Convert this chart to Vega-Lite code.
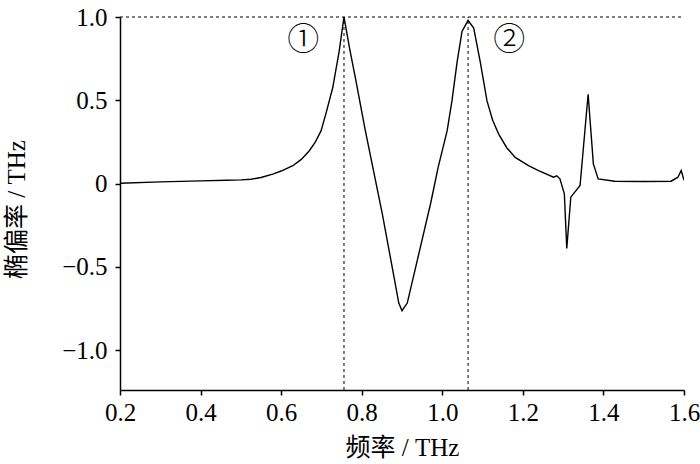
{
  "$schema": "https://vega.github.io/schema/vega-lite/v6.json",
  "description": "Ellipticity vs frequency",
  "width": 564,
  "height": 373,
  "autosize": {"type": "none"},
  "padding": {"left": 120, "top": 17, "right": 16, "bottom": 74},
  "background": "white",
  "datasets": {
    "curve": [
      {"f": 0.2, "e": 0.002}, {"f": 0.3, "e": 0.01}, {"f": 0.4, "e": 0.016}, {"f": 0.464, "e": 0.02},
      {"f": 0.5, "e": 0.022}, {"f": 0.525, "e": 0.026}, {"f": 0.55, "e": 0.036}, {"f": 0.579, "e": 0.056},
      {"f": 0.6, "e": 0.075}, {"f": 0.629, "e": 0.107}, {"f": 0.65, "e": 0.145}, {"f": 0.67, "e": 0.197},
      {"f": 0.685, "e": 0.25}, {"f": 0.699, "e": 0.316}, {"f": 0.711, "e": 0.418}, {"f": 0.728, "e": 0.575},
      {"f": 0.744, "e": 0.794}, {"f": 0.756, "e": 1.0}, {"f": 0.77, "e": 0.81}, {"f": 0.785, "e": 0.625},
      {"f": 0.808, "e": 0.33}, {"f": 0.851, "e": -0.181}, {"f": 0.88, "e": -0.559}, {"f": 0.892, "e": -0.718},
      {"f": 0.9, "e": -0.764}, {"f": 0.913, "e": -0.718}, {"f": 0.942, "e": -0.42}, {"f": 0.971, "e": -0.12},
      {"f": 0.99, "e": 0.1}, {"f": 1.012, "e": 0.316}, {"f": 1.024, "e": 0.496}, {"f": 1.037, "e": 0.734},
      {"f": 1.049, "e": 0.913}, {"f": 1.064, "e": 0.98}, {"f": 1.078, "e": 0.933}, {"f": 1.094, "e": 0.734},
      {"f": 1.111, "e": 0.496}, {"f": 1.125, "e": 0.38}, {"f": 1.14, "e": 0.297}, {"f": 1.16, "e": 0.215},
      {"f": 1.181, "e": 0.157}, {"f": 1.214, "e": 0.107}, {"f": 1.239, "e": 0.078}, {"f": 1.276, "e": 0.038},
      {"f": 1.284, "e": 0.046}, {"f": 1.292, "e": 0.028}, {"f": 1.303, "e": -0.062}, {"f": 1.309, "e": -0.39},
      {"f": 1.319, "e": -0.082}, {"f": 1.342, "e": -0.012}, {"f": 1.362, "e": 0.536}, {"f": 1.375, "e": 0.118},
      {"f": 1.387, "e": 0.028}, {"f": 1.428, "e": 0.014}, {"f": 1.5, "e": 0.012}, {"f": 1.568, "e": 0.014},
      {"f": 1.585, "e": 0.038}, {"f": 1.593, "e": 0.078}, {"f": 1.6, "e": 0.02}
    ],
    "peaks": [
      {"f": 0.756, "label": "①", "lx": 0.655},
      {"f": 1.064, "label": "②", "lx": 1.166}
    ]
  },
  "config": {
    "view": {"stroke": null},
    "axis": {"grid": false}
  },
  "layer": [
    {
      "data": {"name": "curve"},
      "mark": {"type": "line", "color": "black", "strokeWidth": 1.4, "clip": true},
      "encoding": {
        "x": {
          "field": "f",
          "type": "quantitative",
          "scale": {"domain": [0.2, 1.6], "nice": false, "zero": false},
          "axis": {
            "values": [0.2, 0.4, 0.6, 0.8, 1.0, 1.2, 1.4, 1.6],
            "format": ".1f",
            "domainColor": "black",
            "domainWidth": 1.5,
            "tickColor": "black",
            "tickWidth": 1.5,
            "tickSize": 5,
            "labelFont": "Liberation Serif",
            "labelFontSize": 25,
            "labelColor": "black",
            "labelPadding": 5,
            "labelFlush": false,
            "title": "频率 / THz",
            "titleFont": "Liberation Serif, Noto Sans CJK SC",
            "titleFontSize": 25,
            "titleFontWeight": "normal",
            "titleColor": "black",
            "titleY": 57,
            "titleBaseline": "middle"
          }
        },
        "y": {
          "field": "e",
          "type": "quantitative",
          "scale": {"domain": [-1.24, 1.0], "nice": false, "zero": false},
          "axis": {
            "values": [-1, -0.5, 0, 0.5, 1],
            "labelExpr": "datum.value == 0 ? '0' : replace(format(datum.value, '.1f'), '-', '−')",
            "domainColor": "black",
            "domainWidth": 1.5,
            "tickColor": "black",
            "tickWidth": 1.5,
            "tickSize": 5,
            "labelFont": "Liberation Serif",
            "labelFontSize": 25,
            "labelColor": "black",
            "labelPadding": 8,
            "labelFlush": false,
            "title": "椭偏率 / THz",
            "titleFont": "Liberation Serif, Noto Sans CJK SC",
            "titleFontSize": 25,
            "titleFontWeight": "normal",
            "titleColor": "black",
            "titleX": -104,
            "titleY": 192,
            "titleAngle": -90,
            "titleAlign": "center",
            "titleBaseline": "middle"
          }
        }
      }
    },
    {
      "data": {"name": "peaks"},
      "mark": {"type": "rule", "color": "black", "strokeWidth": 1, "strokeDash": [3, 3]},
      "encoding": {
        "x": {"field": "f", "type": "quantitative"},
        "y": {"datum": -1.24},
        "y2": {"datum": 1.0}
      }
    },
    {
      "data": {"values": [{"y": 1.0}]},
      "mark": {"type": "rule", "color": "black", "strokeWidth": 1, "strokeDash": [3, 3]},
      "encoding": {
        "y": {"field": "y", "type": "quantitative"},
        "x": {"datum": 0.2},
        "x2": {"datum": 1.6}
      }
    },
    {
      "data": {"name": "peaks"},
      "mark": {"type": "text", "fontSize": 32, "font": "Noto Sans CJK SC", "fontWeight": 300, "color": "black", "baseline": "middle", "align": "center"},
      "encoding": {
        "x": {"field": "lx", "type": "quantitative"},
        "y": {"datum": 0.86},
        "text": {"field": "label"}
      }
    }
  ]
}
